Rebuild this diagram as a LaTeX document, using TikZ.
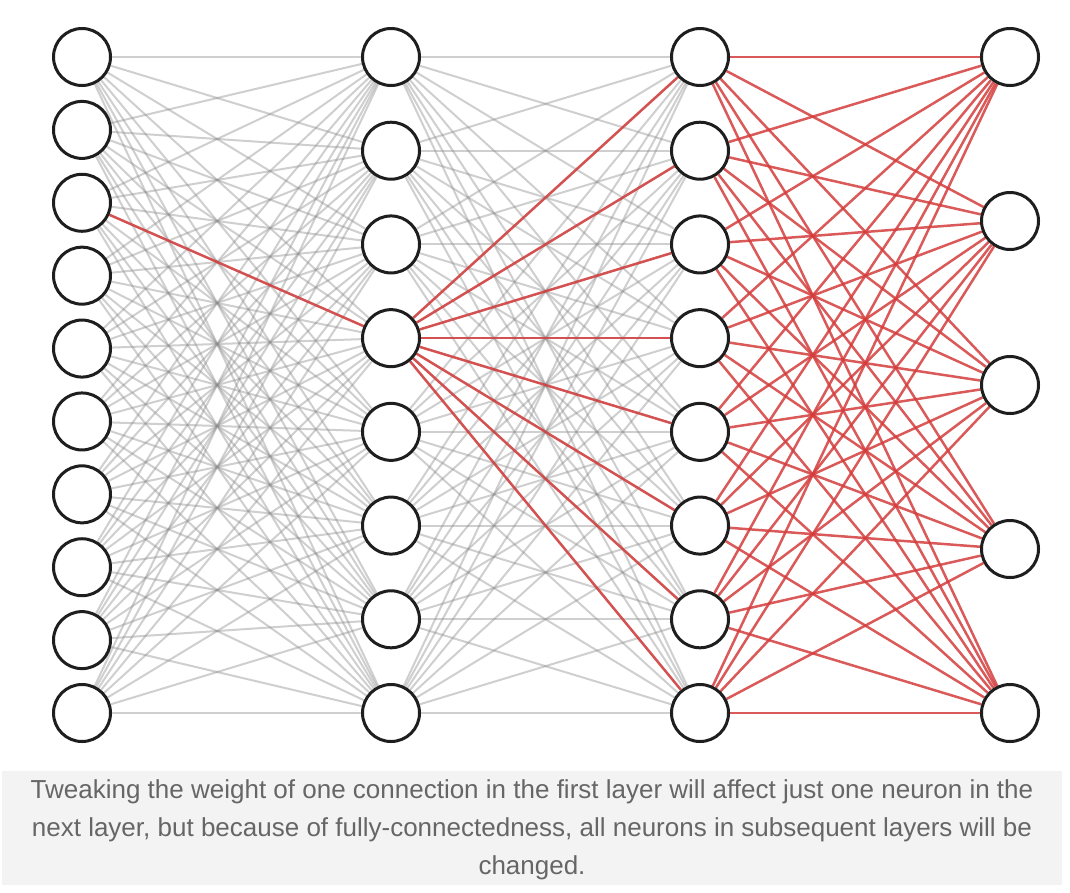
\documentclass[tikz,border=0pt]{standalone}
\usepackage{fontspec}
\setmainfont{Liberation Sans}
\usetikzlibrary{backgrounds}
\definecolor{edgegray}{RGB}{140,140,140}
\definecolor{edgered}{RGB}{212,60,60}
\definecolor{ringcol}{RGB}{30,30,30}
\definecolor{capbg}{RGB}{243,243,243}
\definecolor{captext}{RGB}{102,102,102}
\begin{document}
\begin{tikzpicture}[x=1pt,y=-1pt,
  neuron/.style={circle,draw=ringcol,fill=white,line width=3pt,minimum size=57pt,inner sep=0pt},
  grayedge/.style={draw=edgegray,line width=2pt,opacity=0.42},
  rededge/.style={draw=edgered,line width=2.5pt,opacity=0.85},
  captionbox/.style={fill=capbg,draw=none},
  captiontext/.style={text=captext,align=center,font=\fontsize{26}{38}\selectfont}]
\useasboundingbox (0,0) rectangle (1070,892);
% neurons
\foreach \i in {1,...,10} \node[neuron] (a\i) at (82,{57+(\i-1)*656/9}) {};
\foreach \i in {1,...,8} \node[neuron] (b\i) at (391,{57+(\i-1)*656/7}) {};
\foreach \i in {1,...,8} \node[neuron] (c\i) at (700,{57+(\i-1)*656/7}) {};
\foreach \i in {1,...,5} \node[neuron] (d\i) at (1010,{57+(\i-1)*164}) {};
% connections
\begin{scope}[on background layer]
\foreach \i in {1,...,10} \foreach \j in {1,...,8} \draw[grayedge] (a\i) -- (b\j);
\foreach \i in {1,...,8} \foreach \j in {1,...,8} \draw[grayedge] (b\i) -- (c\j);
\draw[rededge] (a3) -- (b4);
\foreach \j in {1,...,8} \draw[rededge] (b4) -- (c\j);
\foreach \i in {1,...,8} \foreach \j in {1,...,5} \draw[rededge] (c\i) -- (d\j);
\end{scope}
% caption
\node[captionbox,minimum width=1060pt,minimum height=114pt,inner sep=0pt] (capbox) at (532,828) {};
\node[captiontext] (caption) at (532,830) {Tweaking the weight of one connection in the first layer will affect just one neuron in the\\next layer, but because of fully-connectedness, all neurons in subsequent layers will be\\changed.};
\end{tikzpicture}
\end{document}
